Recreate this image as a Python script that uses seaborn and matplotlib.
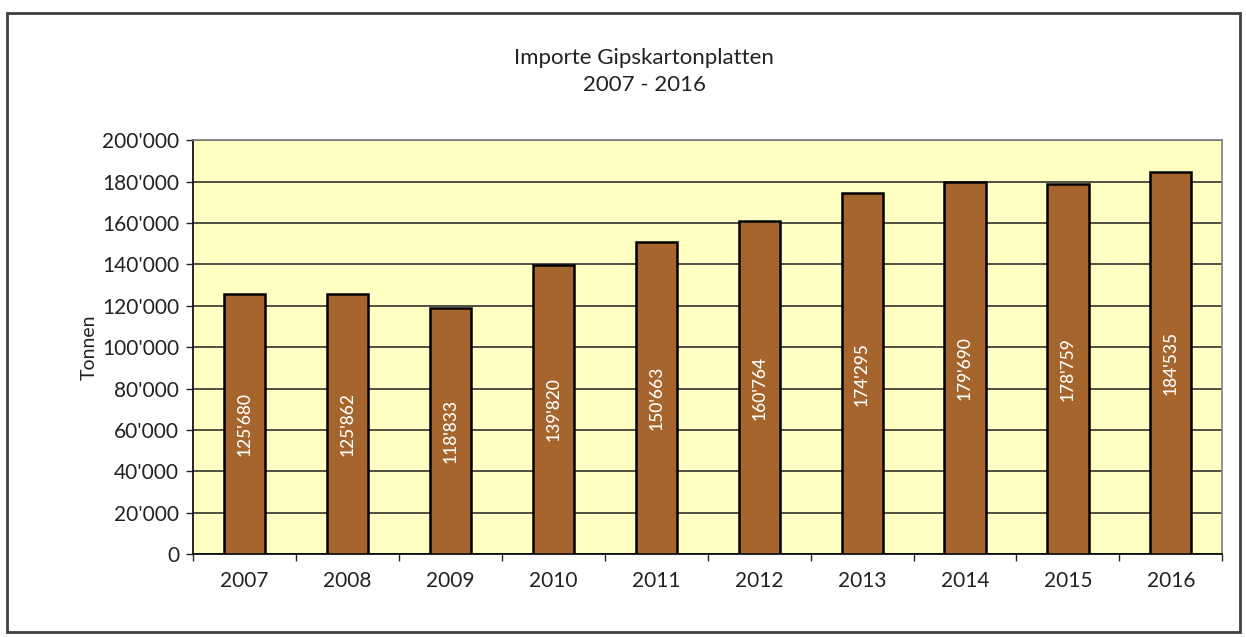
import numpy as np
import pandas as pd
import matplotlib
matplotlib.use("Agg")
import matplotlib.pyplot as plt
import matplotlib.ticker as mticker
from matplotlib.patches import Rectangle
import seaborn as sns

# data
years = ["2007", "2008", "2009", "2010", "2011", "2012", "2013", "2014", "2015", "2016"]
tonnen = [125680, 125862, 118833, 139820, 150663, 160764, 174295, 179690, 178759, 184535]
y_ticks = [0, 20000, 40000, 60000, 80000, 100000, 120000, 140000, 160000, 180000, 200000]

df = pd.DataFrame({"Jahr": years, "Tonnen": tonnen})

sns.set_style("white")
plt.rcParams["font.family"] = ["Lato", "DejaVu Sans"]


def fmt(v):
    return f"{int(v):,}".replace(",", "'")


fig = plt.figure(figsize=(12.46, 6.37), dpi=100)
ax = fig.add_axes([0.155, 0.130, 0.826, 0.650])

# outer frame around the chart
fig.patches.append(Rectangle((0.006, 0.008), 0.989, 0.972, transform=fig.transFigure,
                             fill=False, edgecolor="#404040", linewidth=2))

ax.set_facecolor("#FFFFC4")
sns.barplot(data=df, x="Jahr", y="Tonnen", color="#A5652D", width=0.4,
            edgecolor="black", linewidth=1.8, saturation=1, ax=ax, zorder=3)

# value labels inside the bars
for i, v in enumerate(tonnen):
    ax.text(i, v / 2, fmt(v), rotation=90, ha="center", va="center",
            color="white", fontsize=12.5, fontweight="medium", zorder=4)

ax.set_ylim(0, 200000)
ax.set_xlim(-0.5, len(years) - 0.5)
ax.set_yticks(y_ticks)
ax.yaxis.set_major_formatter(mticker.FuncFormatter(lambda v, p: fmt(v)))
ax.grid(axis="y", color="#202020", linewidth=1.1, zorder=1)
ax.set_axisbelow(True)

ax.tick_params(axis="y", direction="out", length=5, width=1, labelsize=15, pad=5,
               left=True, labelcolor="#222222")
ax.tick_params(axis="x", which="major", length=0, labelsize=15, pad=12, labelcolor="#222222")
ax.set_xticks(np.arange(-0.5, len(years), 1), minor=True)
ax.tick_params(axis="x", which="minor", direction="out", length=5, width=1, bottom=True)

ax.set_xlabel("")
ax.set_ylabel("Tonnen", fontsize=14, labelpad=3, color="#222222")

for s in ["left", "bottom"]:
    ax.spines[s].set_color("black")
    ax.spines[s].set_linewidth(1.2)
for s in ["top", "right"]:
    ax.spines[s].set_color("#808080")
    ax.spines[s].set_linewidth(1.2)

fig.text(0.517, 0.888, "Importe Gipskartonplatten\n2007 - 2016", ha="center", va="center",
         fontsize=16, linespacing=1.45, color="#222222")

fig.savefig("out.png", dpi=100, facecolor="white")
